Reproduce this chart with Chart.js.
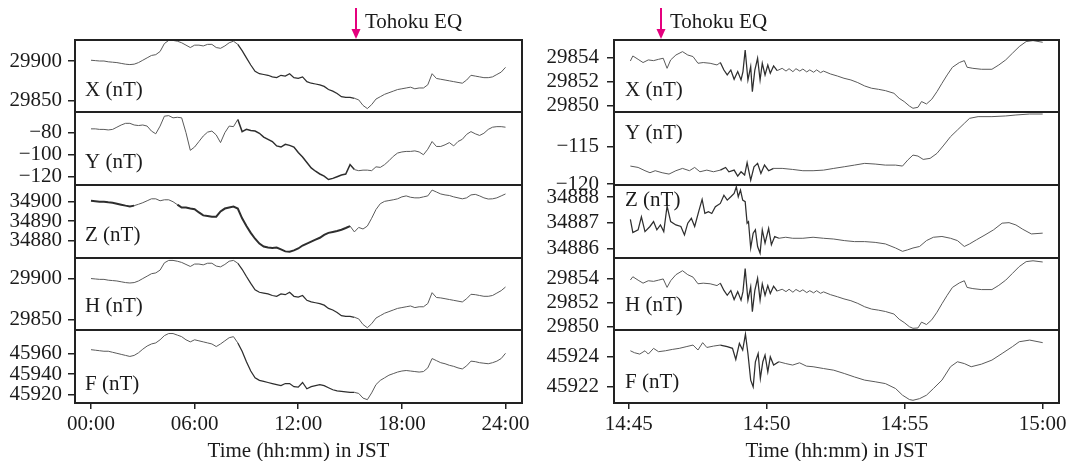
<!DOCTYPE html>
<html>
<head>
<meta charset="utf-8">
<script src="https://cdn.jsdelivr.net/npm/chart.js@4.4.1/dist/chart.umd.min.js"></script>
<style>
  html, body { margin: 0; padding: 0; background: #fff; }
  #wrap { position: relative; width: 1075px; height: 461px; overflow: hidden; background: #fff; }
  #wrap canvas { position: absolute; }
</style>
</head>
<body>
<div id="wrap"></div>
<script>
// ---------- Geomagnetic field, 11 March 2011 (JST) ----------

// Whole day: sample times in hours
const dayHours = [
  0,0.25,0.5,0.75,1,1.25,1.5,1.75,2,2.25,2.5,2.75,3,3.25,3.5,3.75,
  4,4.25,4.5,4.75,5,5.25,5.5,5.75,6,6.25,6.5,6.75,7,7.25,7.5,7.75,
  8,8.25,8.5,8.75,9,9.25,9.5,9.75,10,10.25,10.5,10.75,11,11.25,11.5,11.75,
  12,12.25,12.5,12.75,13,13.25,13.5,13.75,14,14.25,14.5,14.75,15,15.25,15.5,15.75,
  16,16.25,16.5,16.75,17,17.25,17.5,17.75,18,18.25,18.5,18.75,19,19.25,19.5,19.75,
  20,20.25,20.5,20.75,21,21.25,21.5,21.75,22,22.25,22.5,22.75,23,23.25,23.5,23.75,
  24
];
const dayX = [
  29901,29900.5,29900,29900,29899,29898.5,29898,29897,29896,29895.5,29896,29898,29901,29904,29907,29908,
  29912,29922,29926,29926,29925,29923,29920,29917,29920,29920,29919,29921,29921,29917,29916,29919,
  29923,29925,29921,29913,29904,29895,29887,29884,29883,29882,29880,29879,29882,29881,29884,29879,
  29878,29880,29874,29872,29871,29870,29868,29864,29862,29859,29855,29854,29854,29853,29851,29844,
  29840,29845,29852,29855,29858,29860,29862,29864,29865,29866,29867,29865,29866,29866,29870,29884,
  29878,29877,29876,29875,29874,29873,29872,29876,29882,29881,29880,29879,29879,29880,29883,29886,
  29892
];
const dayY = [
  -76.5,-76.5,-77,-77,-77.5,-77,-75,-73,-71.5,-71.5,-73,-73.5,-73,-74,-78.5,-81,
  -74,-65,-64.5,-66.5,-66,-66.5,-80,-96,-93,-88,-83,-79.5,-78.5,-82,-89,-80,
  -74,-74.5,-68,-79,-77,-78,-78.5,-80.5,-84,-86,-88,-92,-93,-90.5,-91.5,-93,
  -98,-102,-107,-112,-115,-117.5,-119.5,-122.5,-121.5,-120,-118.5,-117.5,-109,-113.5,-114.5,-114,
  -114,-114.5,-111,-111.5,-109,-105.5,-101.5,-98.5,-97.5,-97,-97,-96.5,-97.5,-100,-95,-88,
  -92.5,-92.5,-91,-89,-92,-88,-86,-81.5,-79,-81,-82.5,-80.5,-77,-75,-74.5,-74.5,
  -75
];
const dayZ = [
  34900.5,34900.3,34900,34900,34899.7,34899.5,34899,34898.5,34898,34897.6,34898,34898.7,34899.5,34900.5,34901.5,34901.5,
  34900.5,34901,34901,34900,34898.5,34897,34897,34896.5,34896.2,34894.5,34893,34892.7,34892.3,34892.3,34895,34896.5,
  34897,34897.5,34896.5,34891.5,34887.5,34884,34881,34878.5,34877,34876.5,34876.3,34876.5,34875.5,34874.5,34874.3,34875,
  34876,34877.5,34878.5,34879.5,34880.5,34881.5,34883,34884,34884.5,34885,34885.6,34886.5,34887.5,34884.5,34886.8,34886,
  34887.5,34891.5,34896,34899,34900.2,34900.6,34901,34901.5,34902.5,34903,34902.3,34902,34902,34902.5,34903,34906,
  34905,34904,34903.5,34903.2,34902.5,34902,34901.5,34902,34903.5,34903.8,34903,34902,34901.4,34901.5,34902,34903,
  34904
];
const dayH = [
  29900.5,29900,29899.5,29899.5,29898.5,29898,29897.5,29896.5,29895.5,29895,29895.5,29897.5,29900.5,29903.5,29906.5,29907.5,
  29911,29920,29923,29923,29922,29920.5,29918,29915.5,29918.5,29918.5,29917.5,29919.5,29919.5,29916,29915,29918,
  29922,29923,29919.5,29912,29903,29894.5,29886.5,29883.5,29882.5,29881.5,29879.5,29878.5,29881.5,29880.5,29883.5,29878.5,
  29877.5,29879.5,29873.5,29871.5,29870.5,29869.5,29867.5,29863.5,29861.5,29858.5,29854.5,29853.5,29853.5,29852.5,29850.5,29843.5,
  29839.5,29844.5,29851.5,29854.5,29857.5,29859.5,29861.5,29863.5,29864.5,29865.5,29866.5,29864.5,29865.5,29865.5,29869.5,29883,
  29877,29876.5,29875.5,29874.5,29873.5,29872.5,29871.5,29875.5,29881,29880.5,29879.5,29878.5,29878.5,29879.5,29882.5,29885.5,
  29890
];
const dayF = [
  45963.5,45963,45962.5,45962,45962,45961,45960,45959,45958,45957,45958,45960.5,45964,45967,45969,45970,
  45973,45977,45979,45979,45977.5,45976,45973,45971,45973,45972,45971,45970,45969,45966.5,45969,45972,
  45975,45976,45970,45962,45952,45943,45936.5,45934,45933,45932,45931,45930,45929,45931,45931,45928,
  45927.5,45932,45926,45928,45929,45930,45929,45927,45925,45924,45923.5,45923,45922.5,45922.5,45921.5,45917,
  45915.5,45922,45930,45934,45936.5,45939,45940.5,45942,45943,45943.5,45943,45942.5,45942,45942.5,45946,45955,
  45953,45951,45950,45948.5,45947.5,45946,45945,45948,45952.5,45952,45951,45950.5,45950,45951,45952.5,45955,
  45960
];
const dayTicks = [0, 6, 12, 18, 24];
const dayTickLabels = ['00:00', '06:00', '12:00', '18:00', '24:00'];
const dayEqHour = 15.36;

// 14:45-15:00: [minutes after 14:45, nT]
const minX = [
  [0.06,29853.69],[0.15,29854.11],[0.34,29853.83],[0.52,29853.56],[0.71,29853.78],[0.9,29853.72],[1.08,29853.83],[1.25,29853.92],
  [1.39,29853.08],[1.52,29853.78],[1.71,29854.19],[1.95,29854.47],[2.14,29854.19],[2.33,29854.06],[2.51,29853.5],[2.7,29853.56],
  [2.95,29853.5],[3.2,29853.36],[3.32,29853.56],[3.45,29852.94],[3.57,29852.53],[3.7,29852.94],[3.82,29852.17],[3.95,29852.81],
  [4.07,29852.11],[4.14,29852.81],[4.22,29854.61],[4.32,29852.11],[4.42,29853.22],[4.48,29851.14],[4.57,29852.94],[4.67,29853.92],
  [4.76,29852.11],[4.84,29853.5],[4.94,29852.53],[5.04,29853.36],[5.13,29852.67],[5.25,29853.28],[5.38,29852.89],[5.56,29853.08],
  [5.7,29852.85],[5.81,29853.05],[5.95,29852.8],[6.06,29853.05],[6.2,29852.85],[6.31,29853.02],[6.45,29852.78],[6.56,29852.95],
  [6.7,29852.75],[6.81,29852.95],[6.95,29852.72],[7.06,29852.85],[7.31,29852.61],[7.56,29852.44],[7.8,29852.25],[8.05,29852.11],
  [8.3,29851.89],[8.55,29851.61],[8.8,29851.42],[9.05,29851.33],[9.3,29851.22],[9.61,29851.0],[9.8,29850.58],[9.98,29850.31],
  [10.17,29849.94],[10.3,29849.75],[10.48,29849.83],[10.61,29850.31],[10.79,29850.11],[10.98,29850.5],[11.17,29851.14],[11.35,29851.83],
  [11.54,29852.53],[11.73,29853.17],[11.98,29853.56],[12.16,29853.72],[12.26,29853.17],[12.47,29853.08],[12.78,29853.0],[13.16,29853.0],
  [13.41,29853.36],[13.66,29853.78],[13.9,29854.33],[14.15,29854.89],[14.4,29855.31],[14.65,29855.39],[15.0,29855.25]
];
const minY = [
  [0.06,-117.59],[0.34,-117.77],[0.59,-118.21],[0.77,-118.48],[0.96,-118.21],[1.21,-118.48],[1.46,-118.66],[1.71,-118.21],
  [1.95,-117.9],[2.2,-118.21],[2.39,-117.77],[2.58,-118.35],[2.83,-118.13],[3.07,-118.35],[3.32,-118.13],[3.51,-117.77],
  [3.63,-118.35],[3.82,-118.13],[3.95,-118.93],[4.07,-118.35],[4.2,-118.79],[4.29,-117.14],[4.42,-119.46],[4.54,-117.68],
  [4.67,-117.23],[4.79,-118.57],[4.92,-117.46],[5.07,-118.21],[5.25,-117.9],[5.56,-117.9],[5.94,-118.04],[6.31,-118.21],
  [6.68,-118.21],[7.06,-118.13],[7.43,-117.9],[7.81,-117.68],[8.18,-117.46],[8.55,-117.23],[8.93,-117.32],[9.3,-117.46],
  [9.67,-117.46],[9.92,-117.59],[10.11,-116.79],[10.3,-116.12],[10.48,-116.25],[10.67,-116.7],[10.92,-116.56],[11.17,-115.89],
  [11.42,-114.78],[11.66,-113.66],[11.91,-112.77],[12.16,-111.88],[12.35,-111.21],[12.66,-110.98],[13.16,-110.98],[13.66,-110.89],
  [14.03,-110.76],[14.53,-110.63],[15.0,-110.63]
];
const minZ = [
  [0.06,34887.13],[0.15,34886.61],[0.34,34886.72],[0.46,34887.23],[0.59,34886.65],[0.77,34886.85],[0.9,34887.04],[1.02,34886.72],
  [1.15,34886.91],[1.27,34886.65],[1.39,34887.65],[1.52,34887.04],[1.71,34886.91],[1.89,34886.85],[2.02,34886.52],[2.14,34886.98],
  [2.27,34887.17],[2.39,34886.85],[2.55,34887.49],[2.66,34887.91],[2.76,34887.36],[2.89,34887.43],[3.01,34887.36],[3.14,34887.62],
  [3.32,34887.75],[3.45,34888.07],[3.57,34887.88],[3.7,34888.01],[3.82,34888.14],[3.9,34888.4],[3.97,34888.01],[4.05,34888.27],
  [4.13,34887.88],[4.22,34887.82],[4.29,34886.98],[4.34,34887.04],[4.42,34886.01],[4.51,34886.59],[4.59,34886.72],[4.67,34886.07],
  [4.76,34885.81],[4.84,34886.72],[4.94,34886.2],[5.07,34886.78],[5.17,34886.14],[5.29,34886.46],[5.44,34886.39],[5.69,34886.43],
  [5.94,34886.39],[6.31,34886.39],[6.68,34886.43],[7.06,34886.39],[7.43,34886.36],[7.81,34886.3],[8.18,34886.26],[8.55,34886.26],
  [8.93,34886.23],[9.3,34886.17],[9.67,34886.01],[9.92,34885.88],[10.11,34885.94],[10.3,34886.01],[10.54,34886.07],[10.79,34886.3],
  [11.04,34886.43],[11.35,34886.46],[11.66,34886.39],[11.91,34886.3],[12.16,34886.07],[12.35,34886.17],[12.6,34886.33],[12.91,34886.52],
  [13.22,34886.72],[13.53,34886.98],[13.78,34887.0],[14.03,34886.91],[14.28,34886.74],[14.59,34886.56],[15.0,34886.59]
];
const minH = [
  [0.06,29853.86],[0.15,29854.13],[0.34,29853.85],[0.52,29853.6],[0.71,29853.8],[0.9,29853.75],[1.08,29853.85],[1.25,29853.95],
  [1.39,29853.25],[1.52,29853.8],[1.71,29854.3],[1.95,29854.63],[2.14,29854.3],[2.33,29854.1],[2.51,29853.55],[2.7,29853.6],
  [2.95,29853.55],[3.2,29853.4],[3.32,29853.6],[3.45,29853.0],[3.57,29852.6],[3.7,29853.0],[3.82,29852.25],[3.95,29852.9],
  [4.07,29852.2],[4.14,29852.9],[4.22,29854.8],[4.32,29852.2],[4.42,29853.3],[4.48,29851.25],[4.57,29853.0],[4.67,29854.0],
  [4.76,29852.2],[4.84,29853.55],[4.94,29852.6],[5.04,29853.4],[5.13,29852.75],[5.25,29853.35],[5.38,29852.95],[5.56,29853.1],
  [5.7,29852.9],[5.81,29853.1],[5.95,29852.85],[6.06,29853.08],[6.2,29852.9],[6.31,29853.05],[6.45,29852.82],[6.56,29852.98],
  [6.7,29852.8],[6.81,29852.98],[6.95,29852.76],[7.06,29852.88],[7.31,29852.65],[7.56,29852.48],[7.8,29852.3],[8.05,29852.15],
  [8.3,29851.93],[8.55,29851.65],[8.8,29851.46],[9.05,29851.37],[9.3,29851.26],[9.61,29851.05],[9.8,29850.62],[9.98,29850.35],
  [10.17,29850.0],[10.3,29849.87],[10.48,29849.9],[10.61,29850.38],[10.79,29850.18],[10.98,29850.57],[11.17,29851.2],[11.35,29851.9],
  [11.54,29852.6],[11.73,29853.25],[11.98,29853.62],[12.16,29853.8],[12.26,29853.25],[12.47,29853.15],[12.78,29853.07],[13.16,29853.07],
  [13.41,29853.42],[13.66,29853.85],[13.9,29854.4],[14.15,29854.97],[14.4,29855.38],[14.65,29855.45],[15.0,29855.35]
];
const minF = [
  [0.06,45924.4],[0.21,45924.27],[0.4,45924.18],[0.59,45924.4],[0.71,45924.18],[0.9,45924.56],[1.08,45924.34],[1.33,45924.4],
  [1.58,45924.49],[1.83,45924.56],[2.08,45924.67],[2.33,45924.78],[2.51,45924.45],[2.68,45924.94],[2.83,45924.62],[3.07,45924.71],
  [3.32,45924.78],[3.57,45924.67],[3.76,45924.56],[3.88,45923.82],[4.01,45924.89],[4.13,45924.45],[4.23,45925.51],[4.32,45924.22],
  [4.42,45922.45],[4.51,45922.0],[4.59,45923.67],[4.69,45924.22],[4.77,45922.56],[4.86,45923.67],[4.94,45924.11],[5.04,45923.0],
  [5.13,45924.0],[5.25,45923.45],[5.44,45923.67],[5.69,45923.55],[5.94,45923.45],[6.19,45923.6],[6.44,45923.38],[6.68,45923.34],
  [7.06,45923.22],[7.43,45923.11],[7.81,45922.89],[8.18,45922.66],[8.55,45922.45],[8.93,45922.34],[9.3,45922.22],[9.67,45921.89],
  [9.92,45921.45],[10.17,45921.16],[10.3,45921.11],[10.54,45921.22],[10.79,45921.45],[11.04,45921.89],[11.35,45922.45],[11.66,45923.34],
  [11.91,45923.67],[12.16,45923.55],[12.41,45923.34],[12.78,45923.51],[13.16,45923.78],[13.53,45924.22],[13.9,45924.67],[14.15,45925.0],
  [14.53,45925.11],[15.0,45924.94]
];
const minTicks = [0, 5, 10, 15];
const minTickLabels = ['14:45', '14:50', '14:55', '15:00'];
const minEqMinute = 1.18;

// y tick values of each panel
const dayXTicks = [29850, 29900];
const dayYTicks = [-120, -100, -80];
const dayZTicks = [34880, 34890, 34900];
const dayHTicks = [29850, 29900];
const dayFTicks = [45920, 45940, 45960];
const minXTicks = [29850, 29852, 29854];
const minYTicks = [-120, -115];
const minZTicks = [34886, 34887, 34888];
const minHTicks = [29850, 29852, 29854];
const minFTicks = [45922, 45924];

const componentLabels = ['X (nT)', 'Y (nT)', 'Z (nT)', 'H (nT)', 'F (nT)'];
const timeAxisTitle = 'Time (hh:mm) in JST';
const eqLabel = 'Tohoku EQ';

// ---------- drawing ----------
const SERIF = "'Liberation Serif', 'Times New Roman', serif";
const FS = 21;
const INK = '#222';
const TEXT = '#1b1b1b';
const LIGHT = '#5a5a5a';
const DARK = '#2e2e2e';
const wrap = document.getElementById('wrap');

// frame, component name and the earthquake marker
const panelDeco = {
  id: 'panelDeco',
  afterDatasetsDraw(chart, args, o) {
    const { ctx, chartArea: a } = chart;
    ctx.save();
    ctx.strokeStyle = INK;
    ctx.lineWidth = 2;
    ctx.strokeRect(a.left, a.top, a.right - a.left, a.bottom - a.top);
    ctx.fillStyle = TEXT;
    ctx.font = FS + 'px ' + SERIF;
    ctx.textAlign = 'left';
    ctx.textBaseline = 'middle';
    ctx.fillText(o.label, a.left + o.labelDx, a.top + o.labelDy);
    if (o.eq !== undefined) {
      const x = Math.round(chart.scales.x.getPixelForValue(o.eq));
      ctx.strokeStyle = '#e5007e';
      ctx.fillStyle = '#e5007e';
      ctx.lineWidth = 2;
      ctx.beginPath();
      ctx.moveTo(x, a.top - 32);
      ctx.lineTo(x, a.top - 9);
      ctx.stroke();
      ctx.beginPath();
      ctx.moveTo(x - 4.5, a.top - 11);
      ctx.lineTo(x + 4.5, a.top - 11);
      ctx.lineTo(x, a.top - 1);
      ctx.closePath();
      ctx.fill();
      ctx.fillStyle = TEXT;
      ctx.fillText(eqLabel, x + 9, a.top - 18);
    }
    ctx.restore();
  }
};

const bounds = [40, 112, 185, 258, 330, 403];
const BOTTOM = 461;

const columns = [
  {
    left: 0, width: 545, axisWidth: 75, padRight: 23, tickPad: 6,
    xMin: -0.926, xMax: 24.955, ticks: dayTicks, tickLabels: dayTickLabels, eq: dayEqHour, labelDx: 10,
    panels: [
      { xs: dayHours, ys: dayX, min: 29835.7, max: 29926.5, yTicks: dayXTicks, labelDy: 50, dense: [[8.5, 15.2]], w: 1.25 },
      { xs: dayHours, ys: dayY, min: -127.5, max: -61.2, yTicks: dayYTicks, labelDy: 50, dense: [[8.5, 15.2]], w: 1.5 },
      { xs: dayHours, ys: dayZ, min: 34871.1, max: 34908.6, yTicks: dayZTicks, labelDy: 50, dense: [[0, 2.6], [5, 15.1]], w: 2 },
      { xs: dayHours, ys: dayH, min: 29836.7, max: 29926, yTicks: dayHTicks, labelDy: 48, dense: [[8.5, 15.2]], w: 1.25 },
      { xs: dayHours, ys: dayF, min: 45912.3, max: 45982.4, yTicks: dayFTicks, labelDy: 54, dense: [[8.5, 15.2]], w: 1.25 }
    ]
  },
  {
    left: 540, width: 535, axisWidth: 74, padRight: 16, tickPad: 8,
    xMin: -0.533, xMax: 15.591, ticks: minTicks, tickLabels: minTickLabels, eq: minEqMinute, labelDx: 11,
    panels: [
      { pairs: minX, min: 29849.44, max: 29855.44, yTicks: minXTicks, labelDy: 50, dense: [[3.3, 5.4]], w: 1.25 },
      { pairs: minY, min: -120.12, max: -110.36, yTicks: minYTicks, labelDy: 21, dense: [[3.3, 5.4]], w: 1.25 },
      { pairs: minZ, min: 34885.62, max: 34888.47, yTicks: minZTicks, labelDy: 15, dense: [[0, 5.4]], w: 1.25 },
      { pairs: minH, min: 29849.73, max: 29855.68, yTicks: minHTicks, labelDy: 47, dense: [[3.3, 5.4]], w: 1.25 },
      { pairs: minF, min: 45920.93, max: 45925.78, yTicks: minFTicks, labelDy: 52, dense: [[3.3, 5.4]], w: 1.25 }
    ]
  }
];

function fmtValue(v) {
  return v < 0 ? '\u2212' + Math.abs(v) : String(v);
}

function inSpans(spans, t) {
  return spans.some(s => t >= s[0] && t <= s[1]);
}

columns.forEach(col => {
  col.panels.forEach((p, r) => {
    const last = r === col.panels.length - 1;
    const top = bounds[r];
    const bottom = bounds[r + 1];
    const cTop = r === 0 ? 0 : top - 12;
    const cBottom = last ? BOTTOM : bottom + 12;
    const padT = top - cTop;
    const padB = last ? 0 : cBottom - bottom;
    const h = cBottom - cTop;

    const cv = document.createElement('canvas');
    cv.width = col.width;
    cv.height = h;
    cv.style.left = col.left + 'px';
    cv.style.top = cTop + 'px';
    cv.style.width = col.width + 'px';
    cv.style.height = h + 'px';
    wrap.appendChild(cv);

    const pts = p.pairs ? p.pairs.map(d => ({ x: d[0], y: d[1] }))
                        : p.xs.map((t, i) => ({ x: t, y: p.ys[i] }));
    const mid = c => (c.p0.parsed.x + c.p1.parsed.x) / 2;

    new Chart(cv, {
      type: 'line',
      data: {
        datasets: [{
          data: pts,
          borderColor: LIGHT,
          borderWidth: 1,
          pointRadius: 0,
          tension: 0,
          fill: false,
          segment: {
            borderColor: c => inSpans(p.dense, mid(c)) ? DARK : LIGHT,
            borderWidth: c => inSpans(p.dense, mid(c)) ? p.w : 1
          }
        }]
      },
      options: {
        responsive: false,
        animation: false,
        devicePixelRatio: 1,
        events: [],
        layout: { padding: { left: 0, right: col.padRight, top: padT, bottom: padB } },
        plugins: {
          legend: { display: false },
          tooltip: { enabled: false },
          panelDeco: {
            label: componentLabels[r],
            labelDx: col.labelDx,
            labelDy: p.labelDy,
            eq: r === 0 ? col.eq : undefined
          }
        },
        scales: {
          x: {
            type: 'linear',
            position: 'bottom',
            min: col.xMin,
            max: col.xMax,
            display: last,
            afterBuildTicks: s => { s.ticks = col.ticks.map(v => ({ value: v })); },
            afterFit: s => {
              s.height = last ? BOTTOM - bounds[5] : 0;
              s.paddingLeft = 0;
              s.paddingRight = 0;
            },
            grid: { drawOnChartArea: false, drawTicks: true, tickLength: 6, color: INK, lineWidth: 1.5 },
            border: { display: false },
            ticks: {
              autoSkip: false, maxRotation: 0, minRotation: 0, padding: 3, color: TEXT,
              font: { family: SERIF, size: FS },
              callback: (v, i) => col.tickLabels[i]
            },
            title: {
              display: true, text: timeAxisTitle, color: TEXT,
              font: { family: SERIF, size: FS, lineHeight: 1 },
              padding: { top: 0, bottom: -1 }
            }
          },
          y: {
            type: 'linear',
            min: p.min,
            max: p.max,
            afterBuildTicks: s => { s.ticks = p.yTicks.map(v => ({ value: v })); },
            afterFit: s => { s.width = col.axisWidth; s.paddingTop = 0; s.paddingBottom = 0; },
            grid: { drawOnChartArea: false, drawTicks: true, tickLength: 7, color: INK, lineWidth: 1.5 },
            border: { display: false },
            ticks: {
              padding: col.tickPad, color: TEXT,
              font: { family: SERIF, size: FS },
              callback: v => fmtValue(v)
            }
          }
        }
      },
      plugins: [panelDeco]
    });
  });
});
</script>
</body>
</html>
